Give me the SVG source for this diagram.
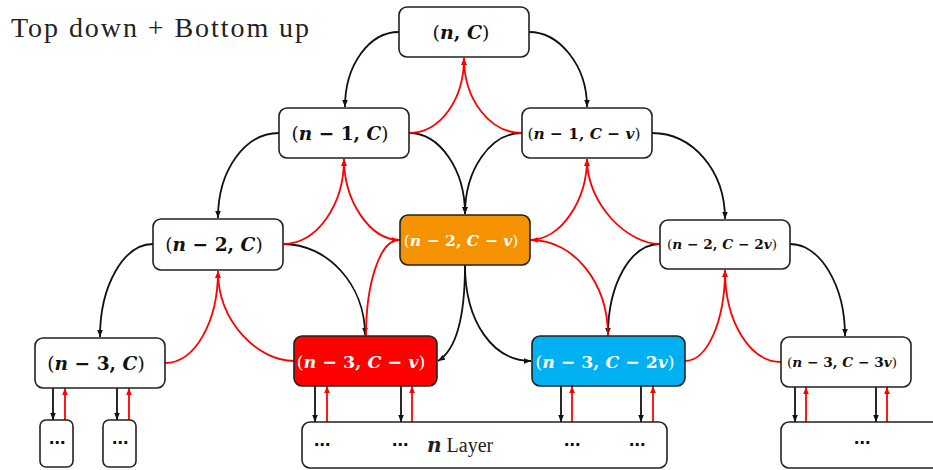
<svg xmlns="http://www.w3.org/2000/svg" width="933" height="470" viewBox="0 0 933 470">
<style>
.box{stroke:#222;stroke-width:1.6}
.w{fill:#fff}
.lbl{font-family:"DejaVu Serif","Liberation Serif",serif;text-anchor:middle;fill:#111}
.wt{fill:#fff}
.v{font-weight:bold;font-style:italic}
.b{font-weight:bold}
.k{fill:none;stroke:#111;stroke-width:1.8}
.r{fill:none;stroke:#f00;stroke-width:1.8}
.dots{font-family:"DejaVu Sans",sans-serif;font-weight:bold;font-size:16px;text-anchor:middle;fill:#111}
.title{font-family:"Liberation Serif","DejaVu Serif",serif;font-size:28px;fill:#222}
.lay{font-family:"Liberation Serif","DejaVu Serif",serif;font-size:20px;fill:#222}
</style>
<defs>
<marker id="ab" viewBox="0 0 10 10" refX="10" refY="5" markerWidth="7" markerHeight="7" markerUnits="userSpaceOnUse" orient="auto"><path d="M0,1 L10,5 L0,9 z" fill="#111"/></marker>
<marker id="ar" viewBox="0 0 10 10" refX="10" refY="5" markerWidth="7" markerHeight="7" markerUnits="userSpaceOnUse" orient="auto"><path d="M0,1 L10,5 L0,9 z" fill="#f00"/></marker>
</defs>
<rect width="933" height="470" fill="#fff"/>
<text class="title" x="11" y="37" textLength="298" lengthAdjust="spacing">Top down + Bottom up</text>

<g id="connectors">
<!-- black top-down -->
<path class="k" marker-end="url(#ab)" d="M399,32 C369,32 345,65 345,107"/>
<path class="k" marker-end="url(#ab)" d="M529,32 C559,32 587,65 587,107"/>
<path class="k" marker-end="url(#ab)" d="M279,133 C245,133 218,170 218,218"/>
<path class="k" marker-end="url(#ab)" d="M409,133 C440,133 465,170 465,214"/>
<path class="k" marker-end="url(#ab)" d="M522,133 C490,133 465,170 465,214"/>
<path class="k" marker-end="url(#ab)" d="M652,133 C692,133 725,170 725,219"/>
<path class="k" marker-end="url(#ab)" d="M153,244 C124,244 100,285 100,337"/>
<path class="k" marker-end="url(#ab)" d="M283,244 C328,244 365,285 365,335"/>
<path class="k" marker-end="url(#ab)" d="M660,244 C630,244 608,285 608,335"/>
<path class="k" marker-end="url(#ab)" d="M790,244 C820,244 845,285 845,336"/>
<path class="k" marker-end="url(#ab)" d="M465,265 C465,320 456,350 438,361"/>
<path class="k" marker-end="url(#ab)" d="M465,265 C465,322 493,361 531,361"/>
<!-- red bottom-up -->
<path class="r" marker-end="url(#ar)" d="M409,133 C440,133 464,100 464,58"/>
<path class="r" marker-end="url(#ar)" d="M522,133 C490,133 464,100 464,58"/>
<path class="r" marker-end="url(#ar)" d="M283,244 C317,244 344,205 344,159"/>
<path class="r" marker-end="url(#ar)" d="M400,240 C369,240 344,200 344,159"/>
<path class="r" marker-end="url(#ar)" d="M530,240 C561,240 587,200 587,159"/>
<path class="r" marker-end="url(#ar)" d="M660,244 C628,244 587,205 587,159"/>
<path class="r" marker-end="url(#ar)" d="M366,336 C366,283 380,240 399,240"/>
<path class="r" marker-end="url(#ar)" d="M608,336 C608,283 574,240 531,240"/>
<path class="r" marker-end="url(#ar)" d="M165,363 C195,363 218,322 218,271"/>
<path class="r" marker-end="url(#ar)" d="M294,361 C258,361 218,322 218,271"/>
<path class="r" marker-end="url(#ar)" d="M685,361 C707,361 725,322 725,270"/>
<path class="r" marker-end="url(#ar)" d="M781,362 C750,362 725,322 725,270"/>
<!-- vertical pairs -->
<path class="k" marker-end="url(#ab)" d="M53,388 V420"/>
<path class="r" marker-end="url(#ar)" d="M65,420 V388"/>
<path class="k" marker-end="url(#ab)" d="M117,388 V420"/>
<path class="r" marker-end="url(#ar)" d="M129,420 V388"/>
<path class="k" marker-end="url(#ab)" d="M315,386 V422"/>
<path class="r" marker-end="url(#ar)" d="M327,422 V386"/>
<path class="k" marker-end="url(#ab)" d="M401,386 V422"/>
<path class="r" marker-end="url(#ar)" d="M412,422 V386"/>
<path class="k" marker-end="url(#ab)" d="M561,386 V422"/>
<path class="r" marker-end="url(#ar)" d="M572,422 V386"/>
<path class="k" marker-end="url(#ab)" d="M641,386 V422"/>
<path class="r" marker-end="url(#ar)" d="M653,422 V386"/>
<path class="k" marker-end="url(#ab)" d="M795,387 V422"/>
<path class="r" marker-end="url(#ar)" d="M806,422 V387"/>
<path class="k" marker-end="url(#ab)" d="M876,387 V422"/>
<path class="r" marker-end="url(#ar)" d="M887,422 V387"/>
</g>

<g id="n_C">
<rect class="box w" x="399" y="7" width="130" height="50" rx="8"/>
<text class="lbl" x="461" y="39" font-size="19">(<tspan class="v">n</tspan><tspan class="b">, </tspan><tspan class="v">C</tspan>)</text>
</g>
<g id="n1_C">
<rect class="box w" x="279" y="108" width="130" height="50" rx="8"/>
<text class="lbl" x="340" y="140" font-size="18.5">(<tspan class="v">n</tspan><tspan class="b"> − 1, </tspan><tspan class="v">C</tspan>)</text>
</g>
<g id="n1_Cv">
<rect class="box w" x="522" y="108" width="130" height="50" rx="8"/>
<text class="lbl" x="584" y="139" font-size="15.4">(<tspan class="v">n</tspan><tspan class="b"> − 1, </tspan><tspan class="v">C</tspan><tspan class="b"> − </tspan><tspan class="v">v</tspan>)</text>
</g>
<g id="n2_C">
<rect class="box w" x="153" y="219" width="130" height="51" rx="8"/>
<text class="lbl" x="214" y="251" font-size="18.6">(<tspan class="v">n</tspan><tspan class="b"> − 2, </tspan><tspan class="v">C</tspan>)</text>
</g>
<g id="n2_Cv">
<rect class="box" fill="#f59200" x="400" y="215" width="130" height="50" rx="8"/>
<text class="lbl wt" x="461" y="246" font-size="15.6">(<tspan class="v">n</tspan><tspan class="b"> − 2, </tspan><tspan class="v">C</tspan><tspan class="b"> − </tspan><tspan class="v">v</tspan>)</text>
</g>
<g id="n2_C2v">
<rect class="box w" x="660" y="220" width="130" height="49" rx="8"/>
<text class="lbl" x="722" y="249" font-size="13.7">(<tspan class="v">n</tspan><tspan class="b"> − 2, </tspan><tspan class="v">C</tspan><tspan class="b"> − 2</tspan><tspan class="v">v</tspan>)</text>
</g>
<g id="n3_C">
<rect class="box w" x="35" y="338" width="130" height="50" rx="8"/>
<text class="lbl" x="96" y="370" font-size="18.6">(<tspan class="v">n</tspan><tspan class="b"> − 3, </tspan><tspan class="v">C</tspan>)</text>
</g>
<g id="n3_Cv">
<rect class="box" fill="#f00" x="294" y="336" width="143" height="50" rx="8"/>
<text class="lbl wt" x="361" y="368" font-size="17.5">(<tspan class="v">n</tspan><tspan class="b"> − 3, </tspan><tspan class="v">C</tspan><tspan class="b"> − </tspan><tspan class="v">v</tspan>)</text>
</g>
<g id="n3_C2v">
<rect class="box" fill="#00b0f0" x="532" y="336" width="153" height="50" rx="8"/>
<text class="lbl wt" x="605" y="368" font-size="17.3">(<tspan class="v">n</tspan><tspan class="b"> − 3, </tspan><tspan class="v">C</tspan><tspan class="b"> − 2</tspan><tspan class="v">v</tspan>)</text>
</g>
<g id="n3_C3v">
<rect class="box w" x="781" y="337" width="130" height="50" rx="8"/>
<text class="lbl" x="842" y="367" font-size="13.7">(<tspan class="v">n</tspan><tspan class="b"> − 3, </tspan><tspan class="v">C</tspan><tspan class="b"> − 3</tspan><tspan class="v">v</tspan>)</text>
</g>
<g id="leaf1">
<rect class="box w" x="40" y="420" width="33" height="47" rx="6"/>
<text class="dots" x="57" y="448">⋯</text>
</g>
<g id="leaf2">
<rect class="box w" x="103" y="420" width="33" height="47" rx="6"/>
<text class="dots" x="120" y="448">⋯</text>
</g>
<g id="layer">
<rect class="box w" x="302" y="422" width="365" height="46" rx="8"/>
<text class="dots" x="322" y="450">⋯</text>
<text class="dots" x="400" y="450">⋯</text>
<text class="dots" x="572" y="450">⋯</text>
<text class="dots" x="637" y="450">⋯</text>
<text class="lay" x="427" y="452"><tspan class="v" font-family="DejaVu Serif">n</tspan> Layer</text>
</g>
<g id="right_leaf">
<rect class="box w" x="781" y="422" width="170" height="46" rx="8"/>
<text class="dots" x="862" y="448">⋯</text>
</g>
</svg>
